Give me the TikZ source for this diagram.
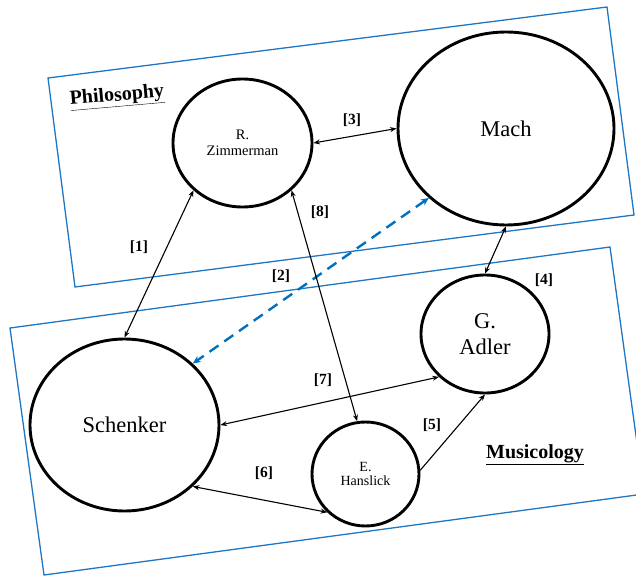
\documentclass[tikz,border=0pt]{standalone}
\usepackage{fontspec}
\setmainfont{Liberation Serif}
\usetikzlibrary{shapes.geometric,arrows.meta}
\definecolor{boxblue}{HTML}{1F77C4}
\definecolor{dashblue}{HTML}{0070C0}
\tikzset{
  person/.style={draw, ellipse, line width=2.9pt, inner sep=0pt, align=center, text=black},
  groupbox/.style={draw=boxblue, line width=1.3pt, line join=miter},
  link/.style={line width=1.1pt, {Stealth[length=6.5pt,width=5pt]}-{Stealth[length=6.5pt,width=5pt]}},
  onelink/.style={line width=1.1pt, -{Stealth[length=6.5pt,width=5pt]}},
  dashlink/.style={draw=dashblue, line width=2.4pt, dash pattern=on 11pt off 7pt,
     {Stealth[length=8pt,width=7pt]}-{Stealth[length=8pt,width=7pt]}},
  tag/.style={font=\fontsize{15.5}{17}\selectfont\bfseries, text=black},
  heading/.style={font=\fontsize{20}{23}\selectfont\bfseries, text=black},
  bigname/.style={font=\fontsize{22.5}{27}\selectfont},
  smallname/.style={font=\fontsize{14.5}{16}\selectfont}
}
\newcommand{\ulbox}[1]{\underline{#1}}
\begin{document}
\begin{tikzpicture}[x=1pt,y=-1pt]
\useasboundingbox (0,0) rectangle (636,577);
\clip (0,0) rectangle (636,577);
% group boxes
\draw[groupbox] (48,78) -- (607,7) -- (634,215) -- (75,287) -- cycle;
\draw[groupbox] (10,328) -- (610,247) -- (644,494) -- (44,575) -- cycle;
\node[heading, rotate=5] (phil) at (117,97) {\ulbox{Philosophy}};
\node[heading] (musi) at (535,455) {\ulbox{Musicology}};
% persons
\node[person, smallname, minimum width=139pt, minimum height=128pt] (z) at (242.5,143) {R.\\Zimmerman};
\node[person, bigname, minimum width=216pt, minimum height=193pt] (m) at (506,128.5) {Mach};
\node[person, bigname, minimum width=189pt, minimum height=172pt] (s) at (124.5,425) {Schenker};
\node[person, bigname, minimum width=128pt, minimum height=118pt, font=\fontsize{22.5}{26}\selectfont] (a) at (485,334) {G.\\Adler};
\node[person, smallname, minimum width=107pt, minimum height=104pt, font=\fontsize{14}{14.5}\selectfont] (h) at (365.5,474) {E.\\Hanslick};
% connectors
\draw[link] (z.224) -- (s.90);
\draw[dashlink] (m.222) -- (s.42);
\draw[link] (z.0) -- (m.180);
\draw[link] (m.270) -- (a.90);
\draw[onelink] (h.4) -- (a.270);
\draw[link] (s.318) -- (h.225);
\draw[link] (s.0) -- (a.223);
\draw[link] (z.316) -- (h.99);
% labels
\node[tag] (l1) at (139,247) {[1]};
\node[tag] (l2) at (281,276) {[2]};
\node[tag] (l3) at (352,120) {[3]};
\node[tag] (l4) at (544,280) {[4]};
\node[tag] (l5) at (432,425) {[5]};
\node[tag] (l6) at (264,473) {[6]};
\node[tag] (l7) at (323,380) {[7]};
\node[tag] (l8) at (320,212) {[8]};
\end{tikzpicture}
\end{document}
